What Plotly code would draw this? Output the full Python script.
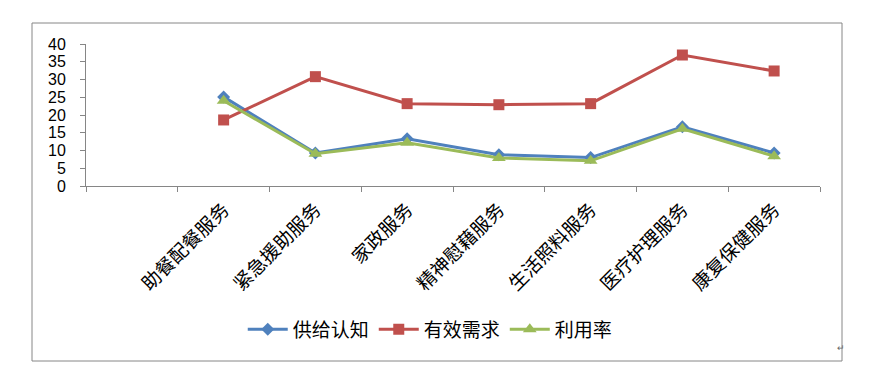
import plotly.graph_objects as go

categories = [" ", "助餐配餐服务", "紧急援助服务", "家政服务", "精神慰藉服务", "生活照料服务", "医疗护理服务", "康复保健服务"]
supply_awareness = [None, 25.1, 9.3, 13.3, 8.8, 8.0, 16.7, 9.3]
effective_demand = [None, 18.6, 30.8, 23.2, 22.9, 23.2, 36.9, 32.4]
utilization = [None, 24.0, 9.1, 12.2, 7.9, 7.1, 16.1, 8.4]
y_ticks = [0, 5, 10, 15, 20, 25, 30, 35, 40]

fig = go.Figure()
fig.add_trace(go.Scatter(x=categories, y=supply_awareness, name="供给认知", mode="lines+markers",
                         line=dict(color="#4F81BD", width=3),
                         marker=dict(symbol="diamond", size=10, color="#4F81BD")))
fig.add_trace(go.Scatter(x=categories, y=effective_demand, name="有效需求", mode="lines+markers",
                         line=dict(color="#C0504D", width=3),
                         marker=dict(symbol="square", size=11, color="#C0504D")))
fig.add_trace(go.Scatter(x=categories, y=utilization, name="利用率", mode="lines+markers",
                         line=dict(color="#9BBB59", width=3),
                         marker=dict(symbol="triangle-up", size=12, color="#9BBB59")))

axis_color = "#868686"
# page body has an 8px offset; the plot area spans x 86..820, y 44..186 in the window
fig.update_layout(
    width=869, height=377,
    margin=dict(l=78, r=57, t=36, b=199),
    paper_bgcolor="white", plot_bgcolor="white",
    showlegend=True,
    legend=dict(orientation="h", x=0.469, xanchor="center", y=-1.01, yanchor="middle",
                font=dict(family="Noto Sans CJK SC", size=19, color="black"),
                itemwidth=40, traceorder="normal", bgcolor="rgba(0,0,0,0)"),
    xaxis=dict(type="category", range=[-0.5, 7.5], showline=True, linecolor=axis_color, linewidth=1,
               ticks="outside", ticklen=5, tickcolor=axis_color, tickson="boundaries",
               tickangle=-45, showgrid=False, zeroline=False, ticklabelstandoff=4,
               tickfont=dict(family="Noto Sans CJK SC", size=19, color="black")),
    yaxis=dict(range=[0, 40], tickvals=y_ticks, showline=True, linecolor=axis_color, linewidth=1,
               ticks="outside", ticklen=5, tickcolor=axis_color, showgrid=False, zeroline=False,
               ticklabelstandoff=11,
               tickfont=dict(family="Liberation Sans", size=16, color="black")),
)
fig.add_shape(type="rect", xref="paper", yref="paper",
              x0=(32 - 86) / 734, x1=(842 - 86) / 734,
              y0=(186 - 361) / 142, y1=(186 - 23) / 142,
              line=dict(color=axis_color, width=1), fillcolor="rgba(0,0,0,0)", layer="below")
fig.add_annotation(xref="paper", yref="paper", x=(847 - 86) / 734, y=(186 - 356) / 142,
                   text="↵", showarrow=False, font=dict(size=9, color="#666666"))
fig.write_html("out.html")
